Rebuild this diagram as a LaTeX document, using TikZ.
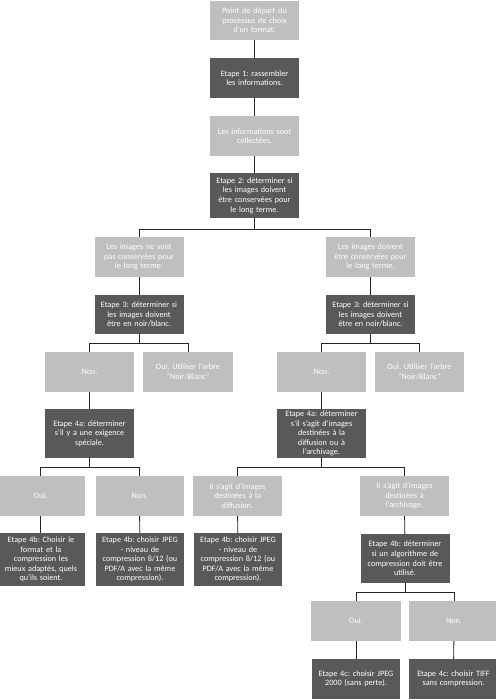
\documentclass[tikz,border=0pt]{standalone}
\usepackage{fontspec}
\setmainfont{Carlito}
\frenchspacing
\definecolor{lightbox}{HTML}{BFBFBF}
\definecolor{darkbox}{HTML}{595959}
\definecolor{linecol}{HTML}{262626}
\tikzset{
  box/.style={rectangle, inner sep=0pt, align=center, text=white,
    font=\fontsize{8.2}{9.6}\selectfont, text width=#1+8pt, minimum width=#1, minimum height=40pt},
  box/.default=81pt,
  lbox/.style={box, fill=lightbox},
  dbox/.style={box, fill=darkbox},
  conn/.style={draw=linecol, line width=0.9pt},
}
\begin{document}
\begin{tikzpicture}[x=1pt,y=-1pt]
\useasboundingbox (0,0) rectangle (495,700);
% trunk
\node[lbox, minimum height=39pt] (start) at (254.5,20.5) {Point de départ du\\processus de choix\\d'un format.};
\node[dbox] (e1) at (254.5,78) {Etape 1: rassembler\\les informations.};
\node[lbox] (info) at (254.5,136) {Les informations sont\\collectées.};
\node[dbox, minimum height=45pt] (e2) at (254.5,195.5) {Etape 2: déterminer si\\les images doivent\\être conservées pour\\le long terme.};
% level 2
\node[lbox] (lnot) at (139,257) {Les images ne sont\\pas conservées pour\\le long terme.};
\node[lbox] (lyes) at (370.5,257) {Les images doivent\\être conservées pour\\le long terme.};
\node[dbox, minimum height=39pt] (e3l) at (139,314.5) {Etape 3: déterminer si\\les images doivent\\être en noir/blanc.};
\node[dbox, minimum height=39pt] (e3r) at (370.5,314.5) {Etape 3: déterminer si\\les images doivent\\être en noir/blanc.};
% level 3
\node[lbox] (nonl) at (89.5,372) {Non.};
\node[lbox, box=82pt] (ouil) at (188,372) {Oui. Utiliser l'arbre\\"Noir/Blanc"};
\node[lbox] (nonr) at (321.5,372) {Non.};
\node[lbox] (ouir) at (419.5,372) {Oui. Utiliser l'arbre\\"Noir/Blanc"};
\node[dbox, minimum height=49pt] (e4al) at (89.5,433.5) {Etape 4a: déterminer\\s'il y a une exigence\\spéciale.};
\node[dbox, minimum height=49pt] (e4ar) at (321.5,433.5) {Etape 4a: déterminer\\s'il s'agit d'images\\destinées à la\\diffusion ou à\\l'archivage.};
% level 4
\node[lbox, box=80pt] (oui2) at (40.5,496) {Oui.};
\node[lbox, box=80pt] (non2) at (139.5,496) {Non.};
\node[lbox] (diff) at (237.5,496) {Il s'agit d'images\\destinées à la\\diffusion.};
\node[lbox] (arch) at (404.5,496) {Il s'agit d'images\\destinées à\\l'archivage.};
\node[dbox, box=80pt, minimum height=53pt] (e4b1) at (41,559.5) {Etape 4b: Choisir le\\format et la\\compression les\\mieux adaptés, quels\\qu'ils soient.};
\node[dbox, box=80pt, minimum height=53pt] (e4b2) at (140,559.5) {Etape 4b: choisir JPEG\\- niveau de\\compression 8/12 (ou\\PDF/A avec la même\\compression).};
\node[dbox, box=80pt, minimum height=53pt] (e4b3) at (238,559.5) {Etape 4b: choisir JPEG\\- niveau de\\compression 8/12 (ou\\PDF/A avec la même\\compression).};
\node[dbox, minimum height=49pt] (e4b4) at (405,558.5) {Etape 4b: déterminer\\si un algorithme de\\compression doit être\\utilisé.};
% level 5
\node[lbox, box=82pt] (oui3) at (356,621) {Oui.};
\node[lbox, box=82pt] (non3) at (454,621) {Non.};
\node[dbox, box=80pt] (e4c1) at (356,679) {Etape 4c: choisir JPEG\\2000 (sans perte).};
\node[dbox, box=81pt] (e4c2) at (453.5,679) {Etape 4c: choisir TIFF\\sans compression.};
% bar coordinates
\coordinate (b1) at (254.5,229);
\coordinate (b2l) at (139,343);
\coordinate (b2r) at (370.5,343);
\coordinate (b3l) at (89.5,467);
\coordinate (b3r) at (321.5,467);
\coordinate (b4) at (405,592);
% connectors
\draw[conn] (start) -- (e1);
\draw[conn] (e1) -- (info);
\draw[conn] (info) -- (e2);
\draw[conn] (e2.south) -- (b1);
\draw[conn] (b1) -| (lnot.north);
\draw[conn] (b1) -| (lyes.north);
\draw[conn] (lnot) -- (e3l);
\draw[conn] (lyes) -- (e3r);
\draw[conn] (e3l.south) -- (b2l);
\draw[conn] (b2l) -| (nonl.north);
\draw[conn] (b2l) -| (ouil.north);
\draw[conn] (e3r.south) -- (b2r);
\draw[conn] (b2r) -| (nonr.north);
\draw[conn] (b2r) -| (ouir.north);
\draw[conn] (nonl) -- (e4al);
\draw[conn] (nonr) -- (e4ar);
\draw[conn] (e4al.south) -- (b3l);
\draw[conn] (b3l) -| (oui2.north);
\draw[conn] (b3l) -| (non2.north);
\draw[conn] (e4ar.south) -- (b3r);
\draw[conn] (b3r) -| (diff.north);
\draw[conn] (b3r) -| (arch.north);
\draw[conn] (oui2.south) -- (oui2.south |- e4b1.north);
\draw[conn] (non2) -- (e4b2);
\draw[conn] (diff) -- (e4b3);
\draw[conn] (arch) -- (e4b4);
\draw[conn] (e4b4.south) -- (b4);
\draw[conn] (b4) -| (oui3.north);
\draw[conn] (b4) -| (non3.north);
\draw[conn] (oui3) -- (e4c1);
\draw[conn] (non3) -- (e4c2);
\end{tikzpicture}
\end{document}
